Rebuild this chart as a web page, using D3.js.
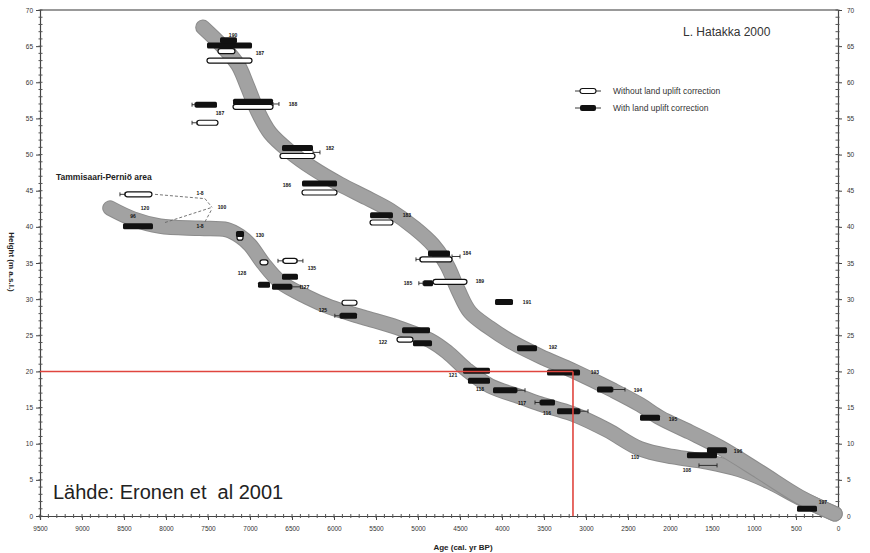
<!DOCTYPE html>
<html><head><meta charset="utf-8">
<script src="https://cdn.jsdelivr.net/npm/d3@7"></script>
<style>
body{margin:0;background:#fff}
svg{display:block}
text{font-family:"Liberation Sans",Arial,Helvetica,sans-serif}
</style>
</head><body>
<svg id="chart" width="870" height="553"></svg>
<script>
// ---------------- DATA ----------------
const xMajorTicks = [9500,9000,8500,8000,7500,7000,6500,6000,5500,5000,4500,4000,3500,3000,2500,2000,1500,1000,500,0];
const yMajorTicks = [0,5,10,15,20,25,30,35,40,45,50,55,60,65,70];

// shoreline displacement band, upper curve: [age cal BP, height m]
const upperBand = [[7560,67.6],[7321,64.9],[7143,62.4],[7036,59.6],[6917,56.2],[6762,53.0],[6524,50.4],[6250,48.1],[5929,45.9],[5607,44.0],[5333,42.3],[5036,39.8],[4821,37.5],[4655,34.7],[4524,31.3],[4381,28.2],[4143,26.0],[3905,24.2],[3548,22.1],[3155,20.1],[2679,17.4],[2357,15.4],[2119,13.6],[1762,11.6],[1405,9.5],[929,6.1],[452,2.6],[36,0.3]];
// Tammisaari-Perniö curve
const lowerBand = [[8667,42.6],[8393,41.1],[8071,40.1],[7595,39.8],[7274,39.6],[7119,38.7],[7000,37.5],[6845,35.0],[6643,32.4],[6321,30.3],[6048,28.9],[5655,27.5],[5250,26.1],[4857,24.3],[4655,22.7],[4417,20.2],[4143,18.0],[3786,16.5],[3548,15.5],[3155,14.1],[2750,11.9],[2357,9.3],[1964,8.2],[1560,7.5],[1167,6.4],[810,4.7],[452,2.5],[36,0.3]];

// dated samples: [older age, younger age, height]
const correctedBars = [[7512,6976,65.1],[7357,7155,65.8],[7655,7393,56.9],[7202,6726,57.3],[6619,6250,50.9],[6381,5964,46.0],[5571,5298,41.6],[4881,4619,36.3],[4940,4821,32.2],[4083,3869,29.6],[3821,3583,23.2],[3464,3071,19.85],[2869,2679,17.5],[2357,2119,13.6],[1560,1321,9.1],[1798,1440,8.4],[488,250,1.0],
  [8512,8155,40.1],[7167,7071,39.0],[6619,6429,33.1],[6905,6762,32.0],[6738,6500,31.7],[5929,5726,27.7],[5190,4857,25.7],[5060,4833,23.9],[4464,4143,20.1],[4405,4143,18.7],[4107,3821,17.4],[3548,3369,15.7],[3345,3071,14.5]];
const uncorrectedBars = [[7381,7179,64.3],[7512,6976,63.0],[7202,6726,56.6],[7631,7381,54.4],[6643,6226,49.8],[6381,5964,44.75],[5571,5298,40.6],[4976,4595,35.5],[4821,4417,32.4],
  [8488,8167,44.5],[7155,7083,38.5],[6881,6786,35.1],[6607,6440,35.3],[5905,5726,29.5],[5250,5060,24.4]];
// error whiskers: [from age, to age, height]
const whiskers = [[6726,6655,57.0],[7690,7655,56.9],[7690,7631,54.4],[6250,6167,50.3],[4595,4500,35.9],[5024,4976,35.5],[4990,4940,32.2],[2679,2536,17.5],[3821,3726,17.4],[3607,3548,15.7],[3071,2976,14.5],[8548,8488,44.5],[6667,6607,35.3],[6440,6370,35.3],[6500,6400,31.7],[5990,5929,27.7],[1655,1440,7.0]];
// sample labels: [age, height, text]
const sampleLabels = [[7202,66.5,"190"],[6881,64.1,"187"],[6488,57.0,"188"],[7357,55.8,"187"],[6048,50.9,"182"],[6560,45.8,"186"],[5131,41.6,"183"],[4417,36.4,"184"],[5119,32.2,"185"],[4262,32.5,"189"],[3702,29.6,"191"],[3393,23.4,"192"],[2893,19.9,"193"],[2381,17.4,"194"],[1964,13.4,"195"],[1190,9.0,"196"],[179,1.9,"197"],
  [7595,44.7,"1-8"],[7333,42.7,"100"],[8250,42.6,"120"],[8393,41.5,"96"],[7595,40.1,"1-8"],[6881,38.9,"130"],[6262,34.3,"135"],[7095,33.6,"128"],[6345,31.7,"127"],[6131,28.5,"125"],[5417,24.1,"122"],[4583,19.5,"121"],[4262,17.6,"118"],[3762,15.6,"117"],[3464,14.2,"116"],[2417,8.2,"110"],[1798,6.4,"108"]];
// dashed connectors for the Tammisaari-Perniö samples
const connectors = [[[8131,44.5],[7536,43.9],[7452,42.7]],[[8012,40.6],[7452,42.7]],[[7536,40.7],[7452,42.5]]];
// reference lines (20 m level and its age)
const refHeight = 20;
const refAge = 3155;

// ---------------- SCALES ----------------
const svg = d3.select("#chart");
const x = d3.scaleLinear().domain([9500,0]).range([40,838]);
const y = d3.scaleLinear().domain([0,70]).range([516,10]);

// frame top line
svg.append("line").attr("x1",x(9500)).attr("x2",x(0)).attr("y1",y(70)).attr("y2",y(70))
  .attr("stroke","#777").attr("stroke-width",1.6);

function styleAxis(g){
  g.select(".domain").attr("stroke","#444").attr("stroke-width",1.2);
  g.selectAll(".tick line").attr("stroke","#444");
  g.selectAll(".tick text").attr("fill","#333").attr("font-size","6.5px");
}
const xMinor = d3.range(0,9501,100);
const yMinor = d3.range(0,71,1);

const gB = svg.append("g").attr("transform",`translate(0,${y(0)})`)
  .call(d3.axisBottom(x).tickValues(xMajorTicks).tickFormat(d3.format("d")).tickSize(4).tickPadding(6));
styleAxis(gB);
gB.selectAll(".minor").data(xMinor).join("line").attr("x1",d=>x(d)).attr("x2",d=>x(d)).attr("y1",-2).attr("y2",2).attr("stroke","#555");

const gL = svg.append("g").attr("transform",`translate(${x(9500)},0)`)
  .call(d3.axisLeft(y).tickValues(yMajorTicks).tickSize(4).tickPadding(3));
styleAxis(gL);
gL.selectAll(".minor").data(yMinor).join("line").attr("y1",d=>y(d)).attr("y2",d=>y(d)).attr("x1",-1.5).attr("x2",2.5).attr("stroke","#555");

const gR = svg.append("g").attr("transform",`translate(${x(0)},0)`)
  .call(d3.axisRight(y).tickValues(yMajorTicks).tickSize(4).tickPadding(5));
styleAxis(gR);
gR.selectAll(".minor").data(yMinor).join("line").attr("y1",d=>y(d)).attr("y2",d=>y(d)).attr("x1",-2.5).attr("x2",1.5).attr("stroke","#555");

// ---------------- BANDS ----------------
const line = d3.line().x(d=>x(d[0])).y(d=>y(d[1])).curve(d3.curveCatmullRom.alpha(0.5));
[lowerBand, upperBand].forEach(b=>{
  svg.append("path").attr("d",line(b)).attr("fill","none").attr("stroke","#8c8c8c")
    .attr("stroke-width",15.5).attr("stroke-linecap","round").attr("stroke-linejoin","round");
  svg.append("path").attr("d",line(b)).attr("fill","none").attr("stroke","#a2a2a2")
    .attr("stroke-width",13.5).attr("stroke-linecap","round").attr("stroke-linejoin","round");
});

// connectors
svg.selectAll(".conn").data(connectors).join("path")
  .attr("d",d=>d3.line().x(p=>x(p[0])).y(p=>y(p[1]))(d))
  .attr("fill","none").attr("stroke","#666").attr("stroke-width",0.9).attr("stroke-dasharray","3,2");

// whiskers
const gw = svg.append("g").attr("stroke","#222").attr("stroke-width",0.9);
whiskers.forEach(w=>{
  gw.append("line").attr("x1",x(w[0])).attr("x2",x(w[1])).attr("y1",y(w[2])).attr("y2",y(w[2]));
  [w[0],w[1]].forEach(a=>gw.append("line").attr("x1",x(a)).attr("x2",x(a)).attr("y1",y(w[2])-2).attr("y2",y(w[2])+2));
});

// bars
svg.selectAll(".wbar").data(uncorrectedBars).join("rect")
  .attr("x",d=>x(d[0])).attr("width",d=>x(d[1])-x(d[0]))
  .attr("y",d=>y(d[2])-2.5).attr("height",5).attr("rx",2.5)
  .attr("fill","#fff").attr("stroke","#111").attr("stroke-width",1.2);
svg.selectAll(".bbar").data(correctedBars).join("rect")
  .attr("x",d=>x(d[0])).attr("width",d=>x(d[1])-x(d[0]))
  .attr("y",d=>y(d[2])-3).attr("height",6).attr("rx",1.5)
  .attr("fill","#111");

// sample labels
svg.selectAll(".lab").data(sampleLabels).join("text")
  .attr("x",d=>x(d[0])).attr("y",d=>y(d[1])+2)
  .attr("text-anchor","middle").attr("font-size","5px").attr("font-weight","bold").attr("fill","#111")
  .text(d=>d[2]);

// red reference lines
svg.append("line").attr("x1",x(9500)).attr("x2",x(refAge)).attr("y1",y(refHeight)).attr("y2",y(refHeight))
  .attr("stroke","#e0453e").attr("stroke-width",1.6);
svg.append("line").attr("x1",x(refAge)).attr("x2",x(refAge)).attr("y1",y(refHeight)).attr("y2",y(0))
  .attr("stroke","#e0453e").attr("stroke-width",1.6);

// ---------------- TEXT ----------------
svg.append("text").attr("x",683).attr("y",36).attr("font-size","12px").attr("fill","#333").text("L. Hatakka 2000");

// legend
const lg = svg.append("g");
lg.append("line").attr("x1",575).attr("x2",601).attr("y1",91).attr("y2",91).attr("stroke","#222").attr("stroke-width",0.9);
lg.append("rect").attr("x",580).attr("y",88.5).attr("width",16).attr("height",5).attr("rx",2.5).attr("fill","#fff").attr("stroke","#111").attr("stroke-width",1.1);
lg.append("line").attr("x1",575).attr("x2",601).attr("y1",108).attr("y2",108).attr("stroke","#222").attr("stroke-width",0.9);
lg.append("rect").attr("x",580).attr("y",105).attr("width",16).attr("height",6).attr("rx",2).attr("fill","#111");
lg.append("text").attr("x",613).attr("y",94).attr("font-size","8.5px").attr("fill","#333").text("Without land uplift correction");
lg.append("text").attr("x",613).attr("y",111).attr("font-size","8.5px").attr("fill","#333").text("With land uplift correction");

svg.append("text").attr("x",56).attr("y",180).attr("font-size","8.5px").attr("font-weight","bold").attr("fill","#222").text("Tammisaari-Perniö area");

svg.append("text").attr("x",53).attr("y",499).attr("font-size","20px").attr("fill","#222")
  .style("white-space","pre").text("Lähde: Eronen et  al 2001");

svg.append("text").attr("x",463).attr("y",550).attr("text-anchor","middle").attr("font-size","8px").attr("font-weight","bold").attr("fill","#222").text("Age (cal. yr BP)");
svg.append("text").attr("transform","translate(9,262) rotate(90)").attr("text-anchor","middle").attr("font-size","8px").attr("font-weight","bold").attr("fill","#222").text("Height (m a.s.l.)");
</script>
</body></html>
